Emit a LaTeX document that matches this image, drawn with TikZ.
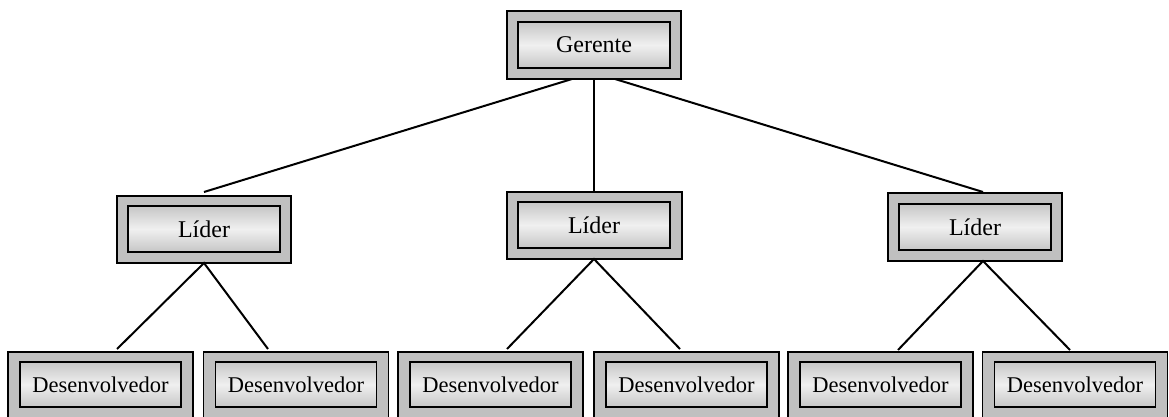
\documentclass[tikz,border=0pt]{standalone}
\usepackage{fontspec}
\setmainfont{Liberation Serif}
\definecolor{outerfill}{RGB}{192,192,192}
\definecolor{inneredge}{RGB}{198,198,198}
\definecolor{innermid}{RGB}{240,240,240}
\begin{document}
\begin{tikzpicture}[x=1pt,y=-1pt,
  outerbox/.style={draw=black,line width=1.8pt,fill=outerfill,inner sep=0pt},
  innerbox/.style={draw=black,line width=1.7pt,top color=inneredge,bottom color=inneredge,middle color=innermid,inner sep=0pt,font=\fontsize{24}{28}\selectfont},
  devbox/.style={innerbox,font=\fontsize{22.5}{26}\selectfont},
  conn/.style={line width=2pt}]
\useasboundingbox (0,0) rectangle (1169,417);
% Gerente
\node[outerbox,minimum width=174pt,minimum height=68pt] (go) at (594,45) {};
\node[innerbox,minimum width=152pt,minimum height=46pt] (g) at (594,45) {Gerente};
% Lideres
\node[outerbox,minimum width=174pt,minimum height=67pt] (l1o) at (204,229.5) {};
\node[innerbox,minimum width=152pt,minimum height=46pt] (l1) at (204,229) {Líder};
\node[outerbox,minimum width=175pt,minimum height=67pt] (l2o) at (594.5,225.5) {};
\node[innerbox,minimum width=152pt,minimum height=46pt] (l2) at (594,225) {Líder};
\node[outerbox,minimum width=174pt,minimum height=68pt] (l3o) at (975,227) {};
\node[innerbox,minimum width=152pt,minimum height=46pt] (l3) at (975,227) {Líder};
% Desenvolvedores
\foreach \n/\cx in {1/100.5,2/296,3/490.5,4/686.5,5/880.5,6/1075}{
  \node[outerbox,minimum width=185pt,minimum height=68pt] (d\n o) at (\cx,386) {};
  \node[devbox,minimum width=161pt,minimum height=45pt] (d\n) at (\cx,384.5) {Desenvolvedor};
}
% connector end points
\coordinate (ga) at (572,79);
\coordinate (gb) at (594,79);
\coordinate (gc) at (615,79);
\coordinate (l1t) at (204,192);
\coordinate (l2t) at (594,192);
\coordinate (l3t) at (983,192);
\coordinate (l1b) at (204,263);
\coordinate (l2b) at (594,259);
\coordinate (l3b) at (983,261);
\coordinate (d1t) at (117,349);
\coordinate (d2t) at (268,349);
\coordinate (d3t) at (507,349);
\coordinate (d4t) at (680,349);
\coordinate (d5t) at (898,350);
\coordinate (d6t) at (1070,350);
\draw[conn] (ga) -- (l1t);
\draw[conn] (gb) -- (l2t);
\draw[conn] (gc) -- (l3t);
\draw[conn] (d1t) -- (l1b) -- (d2t);
\draw[conn] (d3t) -- (l2b) -- (d4t);
\draw[conn] (d5t) -- (l3b) -- (d6t);
\end{tikzpicture}
\end{document}
